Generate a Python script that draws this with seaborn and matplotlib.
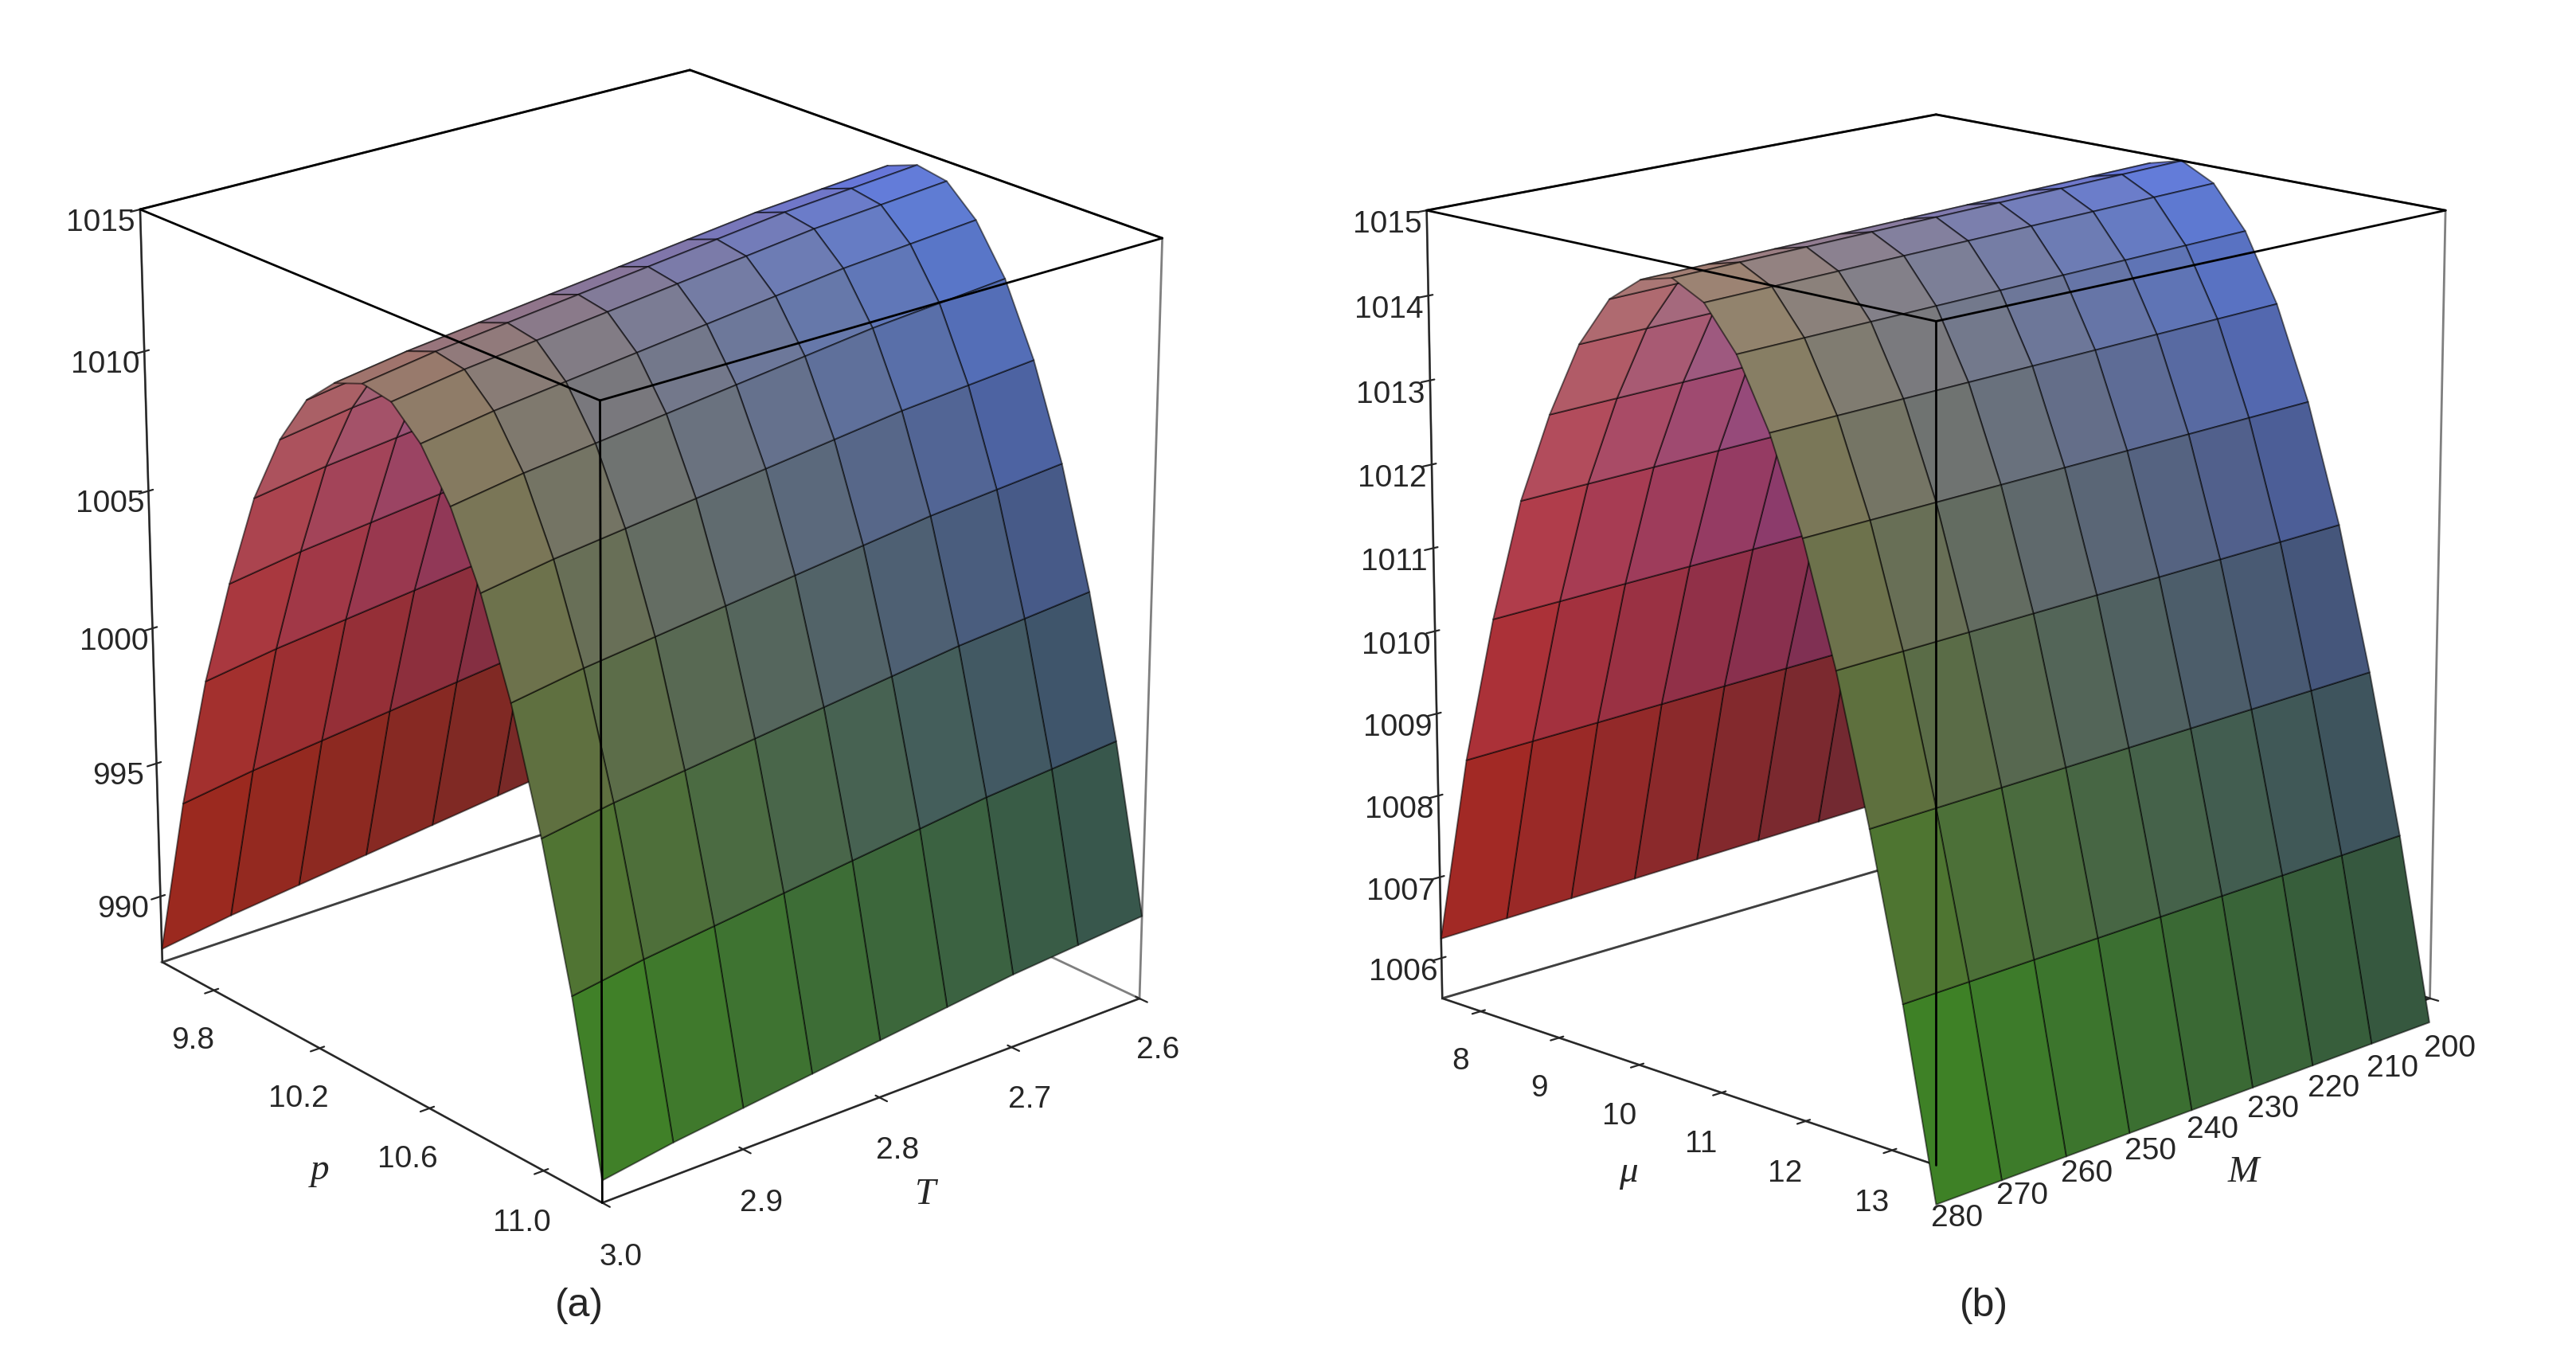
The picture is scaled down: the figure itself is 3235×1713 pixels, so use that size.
import numpy as np
import matplotlib
matplotlib.use("Agg")
import matplotlib.pyplot as plt
import seaborn as sns

sns.set_style("white")
plt.rcParams['font.family'] = ['Liberation Sans', 'DejaVu Sans']

# Panel (a): arch along p, slow drift along T
p_vals = [9.6, 9.7, 9.8, 9.9, 10.0, 10.1, 10.2, 10.3, 10.4, 10.5, 10.6, 10.7, 10.8, 10.9, 11.0, 11.1, 11.2]
arch_a = [989.0, 995.0, 1000.0, 1004.0, 1007.5, 1010.0, 1011.8, 1012.8, 1013.2, 1013.0, 1012.0, 1010.3, 1007.8, 1004.5, 1000.3, 995.3, 989.3]
T_vals = [2.6, 2.65, 2.7, 2.75, 2.8, 2.85, 2.9, 2.95, 3.0]
drift_a = [1.3, 1.1, 0.9, 0.6, 0.3, 0.0, -0.3, -0.6, -1.0]
# Panel (b): arch along mu, slow drift along M
mu_vals = [7.5, 7.875, 8.25, 8.625, 9.0, 9.375, 9.75, 10.125, 10.5, 10.875, 11.25, 11.625, 12.0, 12.375, 12.75, 13.125, 13.5]
arch_b = [1006.3, 1008.6, 1010.4, 1011.9, 1013.0, 1013.9, 1014.5, 1014.8, 1014.9, 1014.7, 1014.2, 1013.4, 1012.3, 1010.9, 1009.2, 1007.3, 1005.1]
M_vals = [200, 210, 220, 230, 240, 250, 260, 270, 280]
drift_b = [0.1, 0.08, 0.06, 0.04, 0.02, 0.0, -0.02, -0.04, -0.06]


def colors(Xn, Yn, Zn):
    # Xn: ridge direction (0 = right/back, 1 = front); Yn: arch direction (0 = left)
    r = 0.18 + 0.45 * (1 - Yn) * (0.5 + 0.5 * Xn) + 0.30 * Zn * (1 - 0.4 * Yn) * (0.4 + 0.6 * Xn)
    g = 0.16 + 0.45 * Yn * (0.5 + 0.5 * Xn) * (1 - 0.6 * Zn) + 0.28 * Zn ** 3
    b = 0.12 + 0.45 * (1 - Xn) * Zn + 0.40 * Zn ** 1.5 * (1 - 0.6 * Yn)
    c = np.stack([r, g, b, np.ones_like(r)], axis=-1)
    return np.clip(c, 0, 1)


def panel(ax, xv, yv, drift, arch, zticks, xticks, yticks, xl, yl, elev, azim, zlim):
    X, Y = np.meshgrid(np.array(xv, float), np.array(yv, float))
    Zc = np.array(arch, float)[:, None] + np.array(drift, float)[None, :]
    Xn = (X - X.min()) / (X.max() - X.min())
    Yn = (Y - Y.min()) / (Y.max() - Y.min())
    Zn = (Zc - Zc.min()) / (Zc.max() - Zc.min())
    ax.plot_surface(X, Y, Zc, facecolors=colors(Xn, Yn, Zn), rstride=1, cstride=1,
                    edgecolor=(0, 0, 0, 0.55), linewidth=0.7, shade=False, antialiased=True)
    x0, x1 = min(xv), max(xv)
    y0, y1 = min(yv), max(yv)
    z0, z1 = zlim
    for xs, ys, zs in [([x0, x1], [y0, y0], [z1, z1]), ([x1, x1], [y0, y1], [z1, z1]),
                       ([x0, x1], [y1, y1], [z1, z1]), ([x0, x0], [y0, y1], [z1, z1]),
                       ([x1, x1], [y1, y1], [z0, z1])]:
        ax.plot(xs, ys, zs, color='black', lw=1.0)
    ax.set_xlim(x0, x1)
    ax.set_ylim(y0, y1)
    ax.set_zlim(z0, z1)
    ax.set_xticks(xticks)
    ax.set_yticks(yticks)
    ax.set_zticks(zticks)
    ax.set_xlabel(xl, fontsize=17, style='italic', family='Liberation Serif', labelpad=8)
    ax.set_ylabel(yl, fontsize=17, style='italic', family='Liberation Serif', labelpad=8)
    ax.tick_params(labelsize=14)
    ax.view_init(elev=elev, azim=azim)
    for a in (ax.xaxis, ax.yaxis, ax.zaxis):
        a.pane.fill = False
        a.pane.set_edgecolor('black')
        a._axinfo['grid']['color'] = (1, 1, 1, 0)
    ax.grid(False)
    ax.set_box_aspect((1, 1, 1.15))


fig = plt.figure(figsize=(16.175, 8.565), dpi=200)
ax1 = fig.add_axes([0.0, 0.08, 0.49, 0.92], projection='3d')
panel(ax1, T_vals, p_vals, drift_a, arch_a, [990, 995, 1000, 1005, 1010, 1015],
      [2.6, 2.7, 2.8, 2.9, 3.0], [9.8, 10.2, 10.6, 11.0], 'T', 'p', 22, 50, (987.5, 1015))
ax2 = fig.add_axes([0.5, 0.08, 0.49, 0.92], projection='3d')
panel(ax2, M_vals, mu_vals, drift_b, arch_b, list(range(1006, 1016)),
      list(range(200, 281, 10)), list(range(8, 14)), 'M', 'μ', 15, 45, (1005.5, 1015))
fig.text(0.225, 0.035, '(a)', fontsize=18, ha='center')
fig.text(0.77, 0.035, '(b)', fontsize=18, ha='center')
fig.savefig('out.png', dpi=200)
